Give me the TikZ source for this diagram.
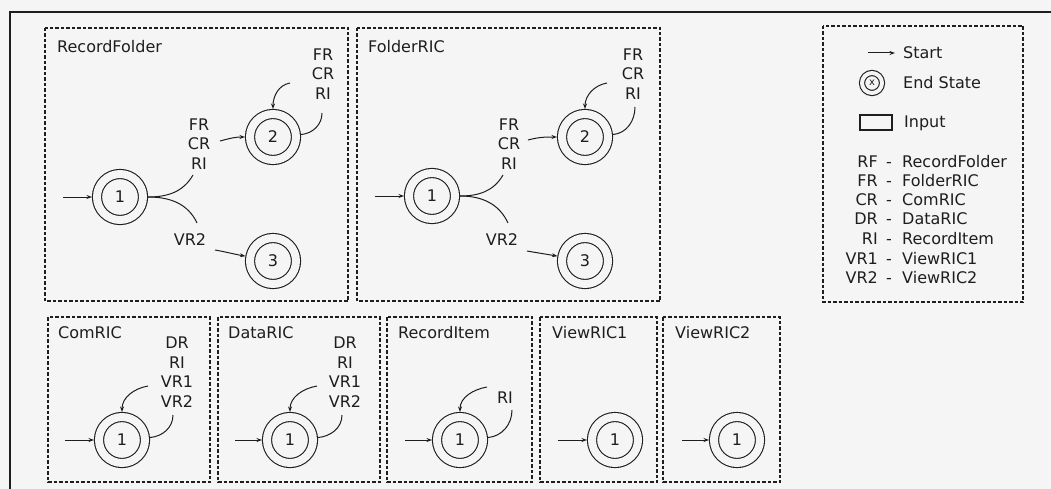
\documentclass[tikz,border=0pt]{standalone}
\usepackage{fontspec}
\setmainfont{DejaVu Sans}
\usetikzlibrary{arrows.meta}
\definecolor{bgc}{RGB}{245,245,246}
\definecolor{ink}{RGB}{30,30,30}
\begin{document}
\begin{tikzpicture}[x=1pt,y=-1pt,
  every node/.style={font=\fontsize{16}{19.5}\selectfont, text=ink},
  box/.style={draw=ink, line width=1.1pt, dash pattern=on 3.5pt off 2pt},
  state/.style={circle, draw=ink, line width=1.1pt, double=bgc, double distance=8pt, minimum size=46pt, inner sep=0pt, outer sep=5pt},
  lbl/.style={align=center, inner sep=0pt},
  txt/.style={inner sep=0pt, text height=11.5pt, text depth=0pt},
  ttl/.style={txt, anchor=west},
  conn/.style={draw=ink, line width=1pt},
  arr/.style={conn, -{Stealth[length=5.5pt,width=4pt]}},
]
\useasboundingbox (0,0) rectangle (1051,489);
\fill[bgc] (0,0) rectangle (1051,489);
\draw[ink, line width=1.2pt] (1051,12) -- (10,12) -- (10,489);

% boxes
\draw[box] (45,28) rectangle (348,301);
\draw[box] (357,28) rectangle (660,301);
\draw[box] (823,26) rectangle (1023,302);
\draw[box] (48,317) rectangle (210,482);
\draw[box] (218,317) rectangle (380,482);
\draw[box] (387,317) rectangle (532,482);
\draw[box] (540,317) rectangle (657,482);
\draw[box] (663,317) rectangle (780,482);

% titles
\node[ttl] (tA) at (57,47) {RecordFolder};
\node[ttl] (tB) at (368,47) {FolderRIC};
\node[ttl] (tC) at (58,333) {ComRIC};
\node[ttl] (tD) at (228,333) {DataRIC};
\node[ttl] (tE) at (398,333) {RecordItem};
\node[ttl] (tF) at (552,333) {ViewRIC1};
\node[ttl] (tG) at (675,333) {ViewRIC2};

% ---------- RecordFolder ----------
\node[state] (a1) at (120,197) {1};
\node[state] (a2) at (273,137) {2};
\node[state] (a3) at (273,261) {3};
\node[lbl] (am) at (199,144) {FR\\CR\\RI};
\node[lbl] (at) at (323,74) {FR\\CR\\RI};
\node[lbl] (av) at (190,240) {VR2};
\coordinate (a0) at (63,197);
\coordinate (au) at (193,175);
\coordinate (ad) at (197,223);
\coordinate (am2) at (220,141);
\coordinate (av2) at (215,250);
\coordinate (alo) at (322,113);
\coordinate (ali) at (290,83);
\draw[arr] (a0) -- (a1);
\draw[conn] (a1) to[out=0,in=240] (au);
\draw[conn] (a1) to[out=0,in=115] (ad);
\draw[arr] (am2) to[out=15,in=180] (a2);
\draw[arr] (av2) to[out=-10,in=170] (a3);
\draw[conn] (a2) to[out=5,in=-90] (alo);
\draw[arr] (ali) to[out=190,in=90] (a2);

% ---------- FolderRIC ----------
\node[state] (b1) at (432,196) {1};
\node[state] (b2) at (585,137) {2};
\node[state] (b3) at (585,261) {3};
\node[lbl] (bm) at (509,144) {FR\\CR\\RI};
\node[lbl] (bt) at (633,74) {FR\\CR\\RI};
\node[lbl] (bv) at (502,240) {VR2};
\coordinate (b0) at (375,196);
\coordinate (bu) at (503,175);
\coordinate (bd) at (508,223);
\coordinate (bm2) at (528,140);
\coordinate (bv2) at (527,251);
\coordinate (blo) at (635,107);
\coordinate (bli) at (607,83);
\draw[arr] (b0) -- (b1);
\draw[conn] (b1) to[out=0,in=240] (bu);
\draw[conn] (b1) to[out=0,in=115] (bd);
\draw[arr] (bm2) to[out=15,in=180] (b2);
\draw[arr] (bv2) to[out=-10,in=170] (b3);
\draw[conn] (b2) to[out=5,in=-90] (blo);
\draw[arr] (bli) to[out=190,in=90] (b2);

% ---------- ComRIC ----------
\node[state] (c1) at (122,440) {1};
\node[lbl] (cl) at (177,372) {DR\\RI\\VR1\\VR2};
\coordinate (c0) at (65,440);
\coordinate (clo) at (173,415);
\coordinate (cli) at (148,386);
\draw[arr] (c0) -- (c1);
\draw[conn] (c1) to[out=5,in=-90] (clo);
\draw[arr] (cli) to[out=190,in=90] (c1);

% ---------- DataRIC ----------
\node[state] (d1) at (290,440) {1};
\node[lbl] (dl) at (345,372) {DR\\RI\\VR1\\VR2};
\coordinate (d0) at (235,440);
\coordinate (dlo) at (342,415);
\coordinate (dli) at (317,386);
\draw[arr] (d0) -- (d1);
\draw[conn] (d1) to[out=5,in=-90] (dlo);
\draw[arr] (dli) to[out=190,in=90] (d1);

% ---------- RecordItem ----------
\node[state] (e1) at (460,440) {1};
\node[lbl] (el) at (505,398) {RI};
\coordinate (e0) at (405,440);
\coordinate (elo) at (512,410);
\coordinate (eli) at (487,387);
\draw[arr] (e0) -- (e1);
\draw[conn] (e1) to[out=5,in=-90] (elo);
\draw[arr] (eli) to[out=190,in=90] (e1);

% ---------- ViewRIC1 / ViewRIC2 ----------
\node[state] (f1) at (615,440) {1};
\coordinate (f0) at (558,440);
\draw[arr] (f0) -- (f1);
\node[state] (g1) at (737,440) {1};
\coordinate (g0) at (682,440);
\draw[arr] (g0) -- (g1);

% ---------- Legend ----------
\coordinate (ls0) at (868,53);
\coordinate (ls1) at (895,53);
\draw[arr] (ls0) -- (ls1);
\node[ttl] (lst) at (903,53) {Start};
\node[state, minimum size=20pt, double distance=4pt, outer sep=0pt, font=\fontsize{10}{12}\selectfont] (lx) at (872,83) {x};
\node[ttl] (lend) at (903,83) {End State};
\node[draw=ink, line width=1.1pt, minimum width=32pt, minimum height=15pt, inner sep=0pt] (lin) at (876,122.5) {};
\node[ttl] (lint) at (904,122) {Input};
\foreach \a/\n/\y [count=\i] in {RF/RecordFolder/162, FR/FolderRIC/181, CR/ComRIC/200, DR/DataRIC/219, RI/RecordItem/239, VR1/ViewRIC1/259, VR2/ViewRIC2/278} {
  \node[txt, anchor=east] (ab\i) at (878,\y) {\a};
  \node[txt] (dh\i) at (889,\y) {-};
  \node[ttl] (nm\i) at (902,\y) {\n};
}
\end{tikzpicture}
\end{document}
